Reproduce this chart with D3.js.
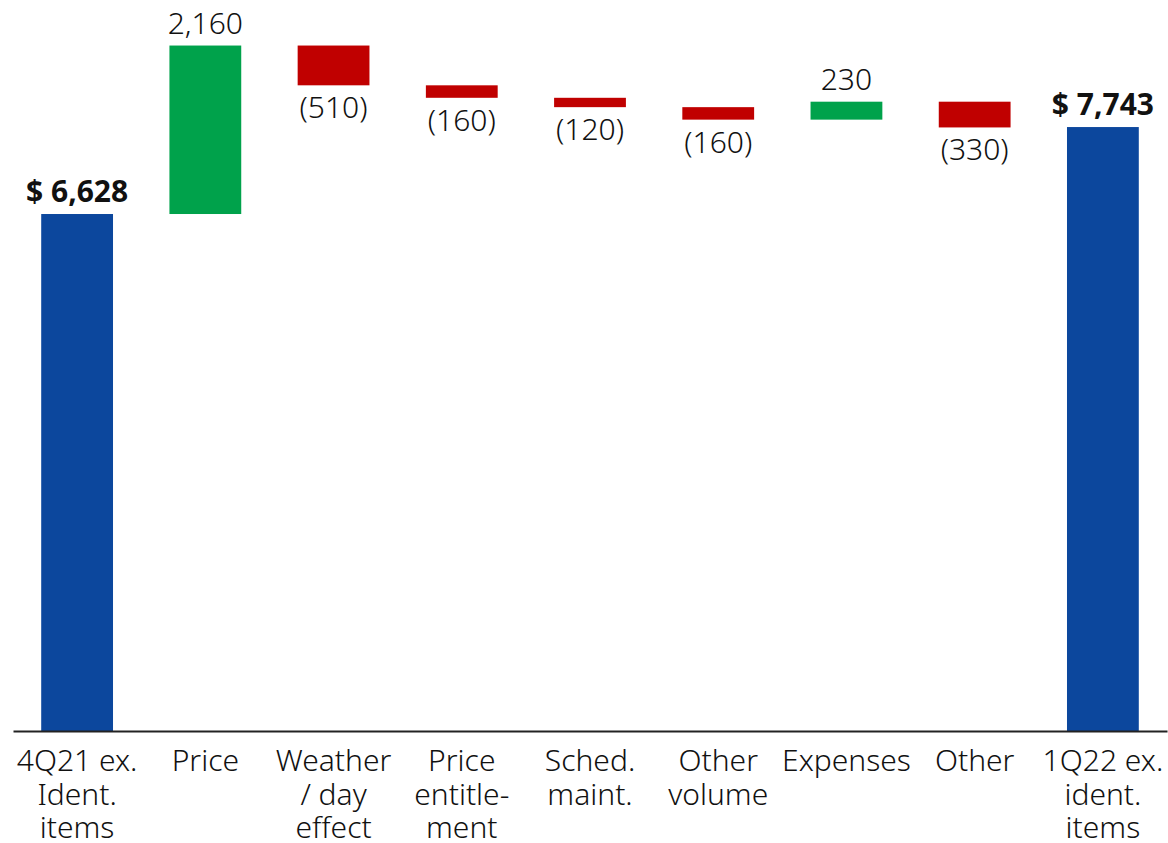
<!DOCTYPE html>
<html>
<head>
<meta charset="utf-8">
<script src="https://cdn.jsdelivr.net/npm/d3@7"></script>
<style>
  body { margin: 0; background: #fff; }
  svg text { font-family: "Noto Sans", "Open Sans", sans-serif; fill: #111; }
</style>
</head>
<body>
<svg id="chart"></svg>
<script>
// chart data
const categories = ['4Q21 ex. Ident. items', 'Price', 'Weather / day effect', 'Price entitlement',
  'Sched. maint.', 'Other volume', 'Expenses', 'Other', '1Q22 ex. ident. items'];
const categoryLines = [
  ['4Q21 ex.', 'Ident.', 'items'],
  ['Price'],
  ['Weather', '/ day', 'effect'],
  ['Price', 'entitle-', 'ment'],
  ['Sched.', 'maint.'],
  ['Other', 'volume'],
  ['Expenses'],
  ['Other'],
  ['1Q22 ex.', 'ident.', 'items']
];
const values = [6628, 2160, -510, -160, -120, -160, 230, -330, 7743];
const isTotal = [true, false, false, false, false, false, false, false, true];
const valueLabels = ['$ 6,628', '2,160', '(510)', '(160)', '(120)', '(160)', '230', '(330)', '$ 7,743'];

const width = 1168, height = 843;
const colors = { total: '#0c479d', up: '#00a24b', down: '#c00000' };

// build waterfall steps
let running = 0;
const steps = categories.map((c, i) => {
  let start, end;
  if (isTotal[i]) { start = 0; end = values[i]; running = values[i]; }
  else { start = running; end = running + values[i]; running = end; }
  return { cat: c, i, start, end, value: values[i], total: isTotal[i] };
});

const svg = d3.select('#chart').attr('width', width).attr('height', height);

const x = d3.scaleBand().domain(categories).range([13, 1167])
  .paddingInner(0.44).paddingOuter(0.22);
const y = d3.scaleLinear().domain([0, 9000]).range([731, 29]);

svg.selectAll('rect.bar').data(steps).join('rect')
  .attr('class', 'bar')
  .attr('x', d => x(d.cat))
  .attr('width', x.bandwidth())
  .attr('y', d => y(Math.max(d.start, d.end)))
  .attr('height', d => Math.abs(y(d.start) - y(d.end)))
  .attr('fill', d => d.total ? colors.total : (d.value >= 0 ? colors.up : colors.down));

// value labels
svg.selectAll('text.val').data(steps).join('text')
  .attr('class', 'val')
  .attr('x', d => x(d.cat) + x.bandwidth() / 2)
  .attr('y', d => d.value >= 0 ? y(Math.max(d.start, d.end)) - 12 : y(Math.min(d.start, d.end)) + 33)
  .attr('text-anchor', 'middle')
  .style('font-size', '30px')
  .style('font-weight', d => d.total ? 700 : 300)
  .text((d, i) => valueLabels[i]);

// axis
const axis = svg.append('g')
  .attr('transform', `translate(0,${y(0)})`)
  .call(d3.axisBottom(x).tickSize(0).tickSizeOuter(0));
axis.select('.domain').attr('stroke', '#222').attr('stroke-width', 2);
axis.selectAll('.tick text').remove();
axis.selectAll('.tick').append('text')
  .attr('text-anchor', 'middle')
  .style('font-size', '30px')
  .style('font-weight', 300)
  .each(function (d, i) {
    const t = d3.select(this);
    categoryLines[i].forEach((line, k) => {
      t.append('tspan').attr('x', 0).attr('y', 40 + k * 33.5).text(line);
    });
  });
</script>
</body>
</html>
